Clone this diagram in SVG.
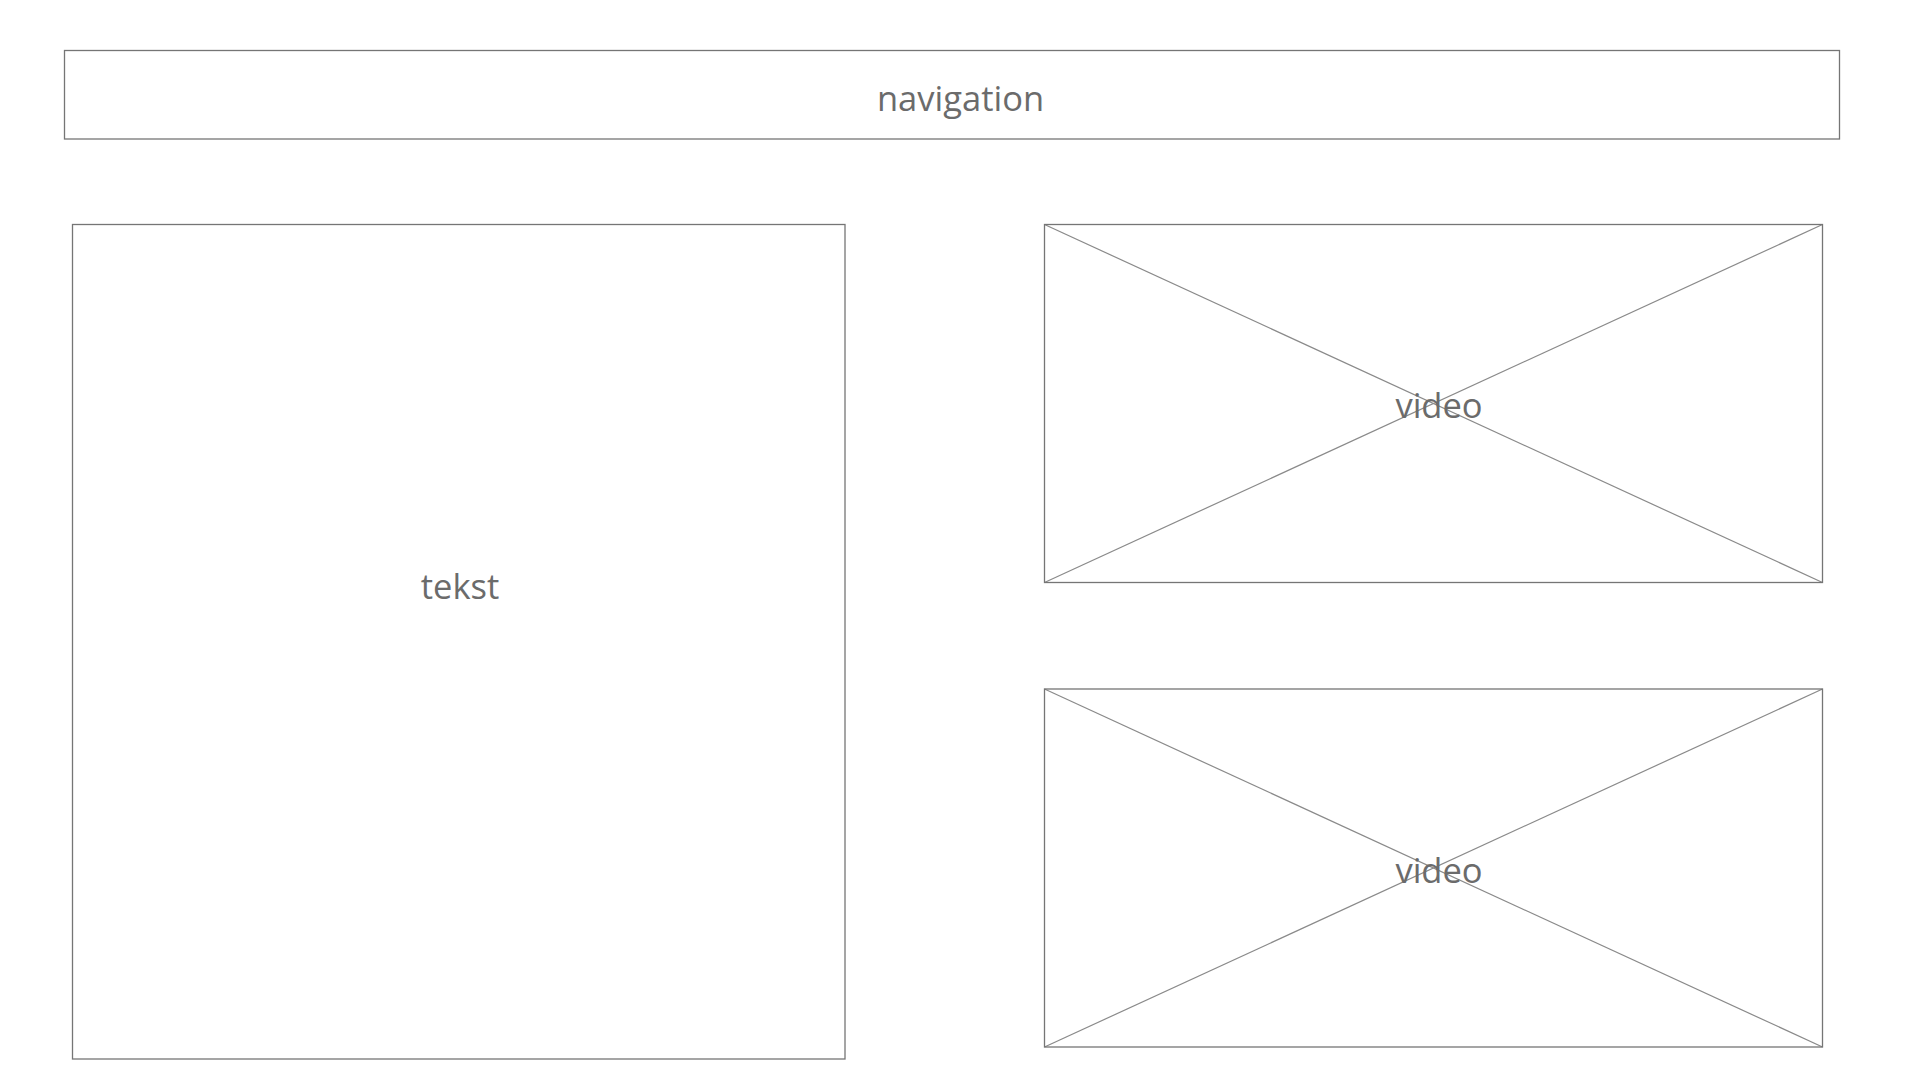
<svg xmlns="http://www.w3.org/2000/svg" width="1920" height="1080" viewBox="0 0 1920 1080">
  <style>
    .box { fill: none; stroke: #757575; stroke-width: 1.3; }
    .diag { stroke: #8a8a8a; stroke-width: 1.2; fill: none; }
    .label { font-family: "Open Sans", "Noto Sans", "DejaVu Sans", sans-serif; font-size: 34.5px; fill: #6b6b6b; text-anchor: middle; }
  </style>
  <rect x="0" y="0" width="1920" height="1080" fill="#ffffff"/>
  <g id="navigation">
    <rect class="box" x="64.5" y="50.5" width="1775" height="88.5"/>
    <text class="label" x="960.5" y="111">navigation</text>
  </g>
  <g id="tekst">
    <rect class="box" x="72.5" y="224.5" width="772.5" height="834.5"/>
    <text class="label" x="460" y="599">tekst</text>
  </g>
  <g id="connectors">
    <line class="diag" x1="1044.5" y1="224.5" x2="1822.5" y2="582.5"/>
    <line class="diag" x1="1822.5" y1="224.5" x2="1044.5" y2="582.5"/>
    <line class="diag" x1="1044.5" y1="689" x2="1822.5" y2="1047"/>
    <line class="diag" x1="1822.5" y1="689" x2="1044.5" y2="1047"/>
  </g>
  <g id="video1">
    <rect class="box" x="1044.5" y="224.5" width="778" height="358"/>
    <text class="label" x="1439" y="418">video</text>
  </g>
  <g id="video2">
    <rect class="box" x="1044.5" y="689" width="778" height="358"/>
    <text class="label" x="1439" y="883">video</text>
  </g>
</svg>
